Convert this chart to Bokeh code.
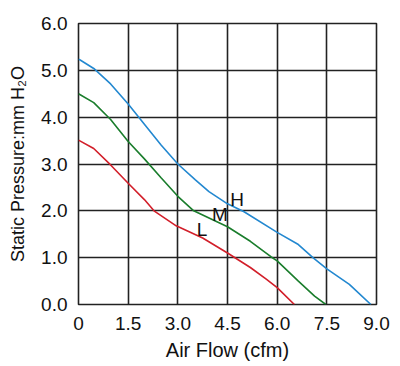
from bokeh.plotting import figure
from bokeh.models import FixedTicker, Range1d, Label
from bokeh.embed import file_html
from bokeh.resources import INLINE

# ---- data ----
h_x = [0.0, 0.05, 0.46, 0.97, 1.5, 1.99, 2.5, 3.0, 3.53, 3.94, 4.5, 5.0, 6.0, 6.64, 7.08, 7.5, 8.18, 8.83]
h_y = [5.24, 5.22, 5.04, 4.71, 4.28, 3.85, 3.4, 3.0, 2.66, 2.41, 2.15, 1.98, 1.54, 1.28, 1.0, 0.76, 0.43, 0.0]

m_x = [0.0, 0.46, 0.97, 1.5, 1.99, 2.5, 3.0, 3.48, 3.75, 4.5, 5.19, 5.81, 6.0, 6.64, 7.13, 7.47]
m_y = [4.5, 4.31, 3.95, 3.48, 3.11, 2.7, 2.31, 2.0, 1.91, 1.66, 1.35, 1.02, 0.93, 0.5, 0.18, 0.0]

l_x = [0.0, 0.46, 0.97, 1.5, 1.99, 2.28, 2.95, 3.75, 4.5, 5.19, 5.67, 6.0, 6.52]
l_y = [3.51, 3.33, 2.98, 2.59, 2.24, 2.0, 1.68, 1.42, 1.1, 0.79, 0.54, 0.36, 0.0]

x_ticks = [0, 1.5, 3.0, 4.5, 6.0, 7.5, 9.0]
x_tick_labels = ["0", "1.5", "3.0", "4.5", "6.0", "7.5", "9.0"]
y_ticks = [0, 1, 2, 3, 4, 5, 6]
y_tick_labels = ["0.0", "1.0", "2.0", "3.0", "4.0", "5.0", "6.0"]

series_names = ["H", "M", "L"]
label_pos_x = [4.79, 4.27, 3.73]
label_pos_y = [2.25, 1.93, 1.61]

FONT = "Liberation Sans"

p = figure(width=400, height=366, output_backend="svg", toolbar_location=None,
           x_range=Range1d(0, 9), y_range=Range1d(0, 6),
           min_border_left=78, min_border_right=24, min_border_top=23, min_border_bottom=62)

p.background_fill_color = "white"
p.border_fill_color = "white"
p.outline_line_color = "#222222"
p.outline_line_width = 1.6

for ax in (p.xaxis[0], p.yaxis[0]):
    ax.axis_line_color = None
    ax.major_tick_line_color = None
    ax.minor_tick_line_color = None
    ax.major_label_text_font = FONT
    ax.major_label_text_font_size = "19px"
    ax.major_label_text_color = "#111111"
    ax.axis_label_text_font = FONT
    ax.axis_label_text_font_style = "normal"
    ax.axis_label_text_color = "#111111"

p.xaxis.axis_label_text_font_size = "20px"
p.yaxis.axis_label_text_font_size = "18px"

p.xaxis.ticker = FixedTicker(ticks=x_ticks)
p.xaxis.major_label_overrides = {t: s for t, s in zip(x_ticks, x_tick_labels)}
p.yaxis.ticker = FixedTicker(ticks=y_ticks)
p.yaxis.major_label_overrides = {t: s for t, s in zip(y_ticks, y_tick_labels)}
p.xaxis.major_label_standoff = 6
p.yaxis.major_label_standoff = 5
p.xaxis.axis_label = "Air Flow (cfm)"
p.yaxis.axis_label = "Static Pressure:mm H\u2082O"
p.xaxis.axis_label_standoff = 6
p.yaxis.axis_label_standoff = 10

p.grid.grid_line_color = "#222222"
p.grid.grid_line_width = 1.6
p.xgrid.ticker = FixedTicker(ticks=x_ticks)
p.ygrid.ticker = FixedTicker(ticks=y_ticks)

p.line(h_x, h_y, line_color="#2388d0", line_width=1.6)
p.line(m_x, m_y, line_color="#1a7d2c", line_width=1.6)
p.line(l_x, l_y, line_color="#d21f2a", line_width=1.6)

for name, lx, ly in zip(series_names, label_pos_x, label_pos_y):
    p.add_layout(Label(x=lx, y=ly, text=name, text_font=FONT, text_font_size="19px",
                       text_color="#111111", text_align="center", text_baseline="middle"))

open("out.html", "w").write(file_html(p, INLINE))
